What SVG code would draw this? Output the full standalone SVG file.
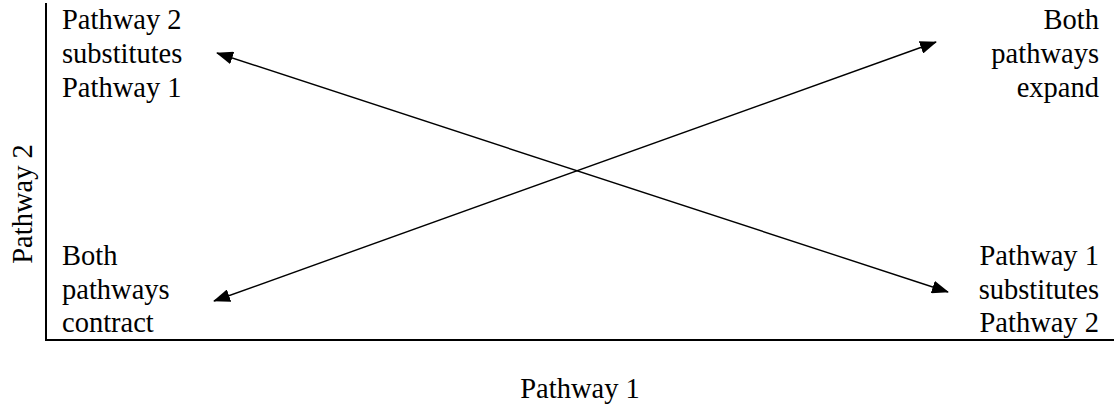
<svg xmlns="http://www.w3.org/2000/svg" width="1114" height="405" viewBox="0 0 1114 405">
<style>
text{font-family:"Liberation Serif","Times New Roman",Times,serif;font-size:28.5px;fill:#000}
.r{text-anchor:end}
.c{text-anchor:middle}
.ax{stroke:#000;stroke-width:2;fill:none}
.ar{stroke:#000;stroke-width:1.4;fill:none;marker-start:url(#ah);marker-end:url(#ah)}
</style>
<defs>
<marker id="ah" viewBox="0 0 17 13" refX="16" refY="6.5" markerWidth="17" markerHeight="13" markerUnits="userSpaceOnUse" orient="auto-start-reverse">
<path d="M0,0 L17,6.5 L0,13 Z" fill="#000"/>
</marker>
</defs>
<g id="axes">
<path class="ax" d="M46,3 V340 H1114"/>
<text class="c" transform="translate(32,204) rotate(-90)">Pathway 2</text>
<text class="c" x="580" y="398">Pathway 1</text>
</g>
<g id="connectors">
<line class="ar" x1="217" y1="53" x2="948" y2="292"/>
<line class="ar" x1="214" y1="301" x2="936" y2="42"/>
</g>
<g id="top-left">
<text x="62" y="29">Pathway 2</text>
<text x="62" y="63">substitutes</text>
<text x="62" y="97">Pathway 1</text>
</g>
<g id="top-right">
<text class="r" x="1099" y="29">Both</text>
<text class="r" x="1099" y="63">pathways</text>
<text class="r" x="1099" y="97">expand</text>
</g>
<g id="bottom-left">
<text x="62" y="265">Both</text>
<text x="62" y="299">pathways</text>
<text x="62" y="332">contract</text>
</g>
<g id="bottom-right">
<text class="r" x="1099" y="265">Pathway 1</text>
<text class="r" x="1099" y="299">substitutes</text>
<text class="r" x="1099" y="332">Pathway 2</text>
</g>
</svg>
